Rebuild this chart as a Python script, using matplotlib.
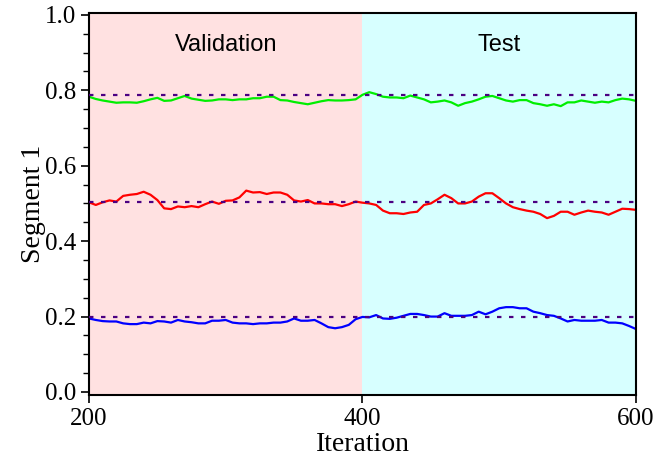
import numpy as np
import matplotlib
matplotlib.use("Agg")
import matplotlib.pyplot as plt
from matplotlib.ticker import MultipleLocator, FormatStrFormatter

iterations = list(range(200, 605, 5))

green = [0.783, 0.777, 0.773, 0.770, 0.767, 0.768, 0.768, 0.767, 0.771, 0.776,
         0.780, 0.772, 0.773, 0.779, 0.785, 0.778, 0.775, 0.772, 0.773, 0.776,
         0.776, 0.774, 0.776, 0.776, 0.779, 0.779, 0.783, 0.783, 0.774, 0.773,
         0.769, 0.766, 0.763, 0.767, 0.771, 0.774, 0.773, 0.773, 0.774, 0.776,
         0.788, 0.795, 0.790, 0.783, 0.781, 0.781, 0.779, 0.786, 0.781, 0.776,
         0.768, 0.770, 0.773, 0.768, 0.759, 0.766, 0.770, 0.776, 0.783, 0.785,
         0.779, 0.773, 0.770, 0.774, 0.774, 0.766, 0.763, 0.759, 0.763, 0.758,
         0.768, 0.768, 0.773, 0.770, 0.767, 0.770, 0.768, 0.774, 0.778, 0.776,
         0.772]

red = [0.503, 0.496, 0.503, 0.508, 0.505, 0.520, 0.523, 0.525, 0.531, 0.523,
       0.509, 0.487, 0.485, 0.492, 0.490, 0.493, 0.490, 0.498, 0.505, 0.499,
       0.507, 0.508, 0.516, 0.534, 0.529, 0.530, 0.525, 0.529, 0.529, 0.523,
       0.508, 0.505, 0.509, 0.500, 0.500, 0.498, 0.498, 0.493, 0.498, 0.505,
       0.502, 0.500, 0.496, 0.481, 0.474, 0.474, 0.472, 0.476, 0.478, 0.496,
       0.500, 0.511, 0.523, 0.514, 0.500, 0.500, 0.505, 0.518, 0.527, 0.527,
       0.514, 0.500, 0.490, 0.485, 0.481, 0.478, 0.472, 0.461, 0.467, 0.478,
       0.478, 0.470, 0.476, 0.481, 0.478, 0.476, 0.470, 0.478, 0.486, 0.485,
       0.483]

blue = [0.195, 0.191, 0.188, 0.187, 0.187, 0.182, 0.180, 0.180, 0.184, 0.182,
        0.188, 0.187, 0.184, 0.191, 0.187, 0.185, 0.182, 0.182, 0.189, 0.189,
        0.191, 0.184, 0.182, 0.182, 0.180, 0.182, 0.182, 0.184, 0.184, 0.187,
        0.195, 0.189, 0.189, 0.191, 0.182, 0.172, 0.169, 0.172, 0.178, 0.193,
        0.199, 0.198, 0.204, 0.195, 0.194, 0.197, 0.202, 0.207, 0.207, 0.204,
        0.200, 0.200, 0.209, 0.202, 0.202, 0.202, 0.204, 0.213, 0.206, 0.213,
        0.222, 0.225, 0.225, 0.222, 0.222, 0.213, 0.209, 0.204, 0.202, 0.195,
        0.187, 0.191, 0.189, 0.189, 0.189, 0.191, 0.184, 0.184, 0.182, 0.175,
        0.167]

reference_levels = [0.788, 0.503, 0.200]
regions = [(200, 400, "Validation"), (400, 600, "Test")]
region_colors = ["#FFE1E1", "#D7FFFF"]

fig = plt.figure(figsize=(6.68, 4.59), dpi=100)
ax = fig.add_axes([0.1332, 0.1394, 0.8188, 0.8323])

for (x0, x1, label), c in zip(regions, region_colors):
    ax.axvspan(x0, x1, color=c, zorder=0, lw=0)
    ax.text((x0 + x1) / 2, 0.92, label, ha="center", va="center",
            fontsize=17, family="Liberation Sans")

ax.plot(iterations, green, color="#00EE00", lw=1.6, zorder=2)
ax.plot(iterations, red, color="#FF0000", lw=1.6, zorder=2)
ax.plot(iterations, blue, color="#0000FF", lw=1.6, zorder=2)

for lvl in reference_levels:
    ax.axhline(lvl, color="#4B0082", lw=1.6, linestyle=(0, (2.0, 3.4)), zorder=3)

ax.set_xlim(200, 600)
ax.set_ylim(-0.008, 1.005)
ax.set_xticks([200, 400, 600])
ax.yaxis.set_major_locator(MultipleLocator(0.2))
ax.yaxis.set_minor_locator(MultipleLocator(0.05))
ax.yaxis.set_major_formatter(FormatStrFormatter("%.1f"))
ax.tick_params(axis="both", direction="out", labelsize=18, width=1.2, length=6)
ax.tick_params(axis="y", which="minor", direction="out", length=4, width=1.0)
for lab in ax.get_xticklabels() + ax.get_yticklabels():
    lab.set_family("Liberation Serif")
ax.set_xlabel("Iteration", fontsize=20, family="Liberation Serif", labelpad=1)
ax.set_ylabel("Segment 1", fontsize=20, family="Liberation Serif", labelpad=-1)
for s in ax.spines.values():
    s.set_linewidth(1.5)

fig.savefig("out.png", dpi=100)
